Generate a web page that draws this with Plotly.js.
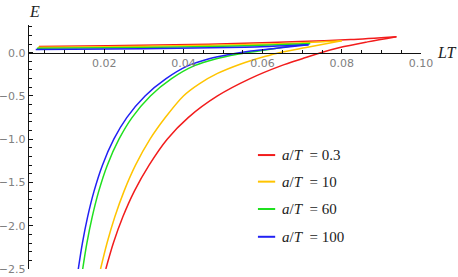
<!DOCTYPE html>
<html><head><meta charset="utf-8">
<script src="https://cdn.plot.ly/plotly-3.0.1.min.js"></script>
<style>html,body{margin:0;padding:0;background:#fff}</style>
</head><body><div id="chart" style="width:458px;height:277px"></div>
<script>
// legend labels (a/T values)
const aOverT = ['0.3', '10', '60', '100'];
const colors = ['#f21c1c', '#ffc400', '#1fe01f', '#2121f4'];

// upper branches (left end -> cusp)
const ltRedUpper = [0.0035, 0.0208, 0.0378, 0.0554, 0.0693, 0.0822, 0.0938];
const eRedUpper  = [0.072, 0.080, 0.091, 0.108, 0.129, 0.152, 0.185];
const ltYellowUpper = [0.0033, 0.0208, 0.0386, 0.0554, 0.0683, 0.0800];
const eYellowUpper  = [0.063, 0.069, 0.079, 0.094, 0.110, 0.137];
const ltGreenUpper = [0.0030, 0.0208, 0.0386, 0.0554, 0.0720];
const eGreenUpper  = [0.052, 0.057, 0.066, 0.080, 0.107];
const ltBlueUpper = [0.0027, 0.0208, 0.0386, 0.0554, 0.0716];
const eBlueUpper  = [0.037, 0.042, 0.050, 0.064, 0.093];

// lower branches (cusp -> bottom)
const ltRedLower = [0.0938, 0.0865, 0.0795, 0.0747, 0.0700, 0.06475, 0.05684, 0.0486, 0.0412, 0.0359, 0.03133, 0.02761, 0.02468, 0.02231, 0.0204];
const eRedLower  = [0.185, 0.125, 0.060, 0.000, -0.070, -0.150, -0.300, -0.500, -0.750, -1.000, -1.300, -1.600, -1.900, -2.200, -2.500];
const ltYellowLower = [0.0800, 0.0710, 0.0642, 0.0605, 0.0545, 0.0486, 0.0440, 0.0400, 0.03542, 0.03156, 0.02790, 0.02501, 0.02266, 0.02071, 0.01907];
const eYellowLower  = [0.137, 0.060, 0.000, -0.045, -0.130, -0.240, -0.360, -0.500, -0.750, -1.000, -1.300, -1.600, -1.900, -2.200, -2.500];
const ltGreenLower = [0.0720, 0.0655, 0.0590, 0.0533, 0.0483, 0.0428, 0.0370, 0.03166, 0.02702, 0.02372, 0.02078, 0.01862, 0.01695, 0.01562, 0.01456];
const eGreenLower  = [0.107, 0.065, 0.020, -0.020, -0.070, -0.150, -0.300, -0.500, -0.750, -1.000, -1.300, -1.600, -1.900, -2.200, -2.500];
const ltBlueLower = [0.0716, 0.0640, 0.0570, 0.0515, 0.0465, 0.0412, 0.03562, 0.03031, 0.02569, 0.02242, 0.01955, 0.01743, 0.01579, 0.01449, 0.01345];
const eBlueLower  = [0.093, 0.055, 0.020, -0.020, -0.070, -0.150, -0.300, -0.500, -0.750, -1.000, -1.300, -1.600, -1.900, -2.200, -2.500];

const upperLT = [ltRedUpper, ltYellowUpper, ltGreenUpper, ltBlueUpper];
const upperE = [eRedUpper, eYellowUpper, eGreenUpper, eBlueUpper];
const lowerLT = [ltRedLower, ltYellowLower, ltGreenLower, ltBlueLower];
const lowerE = [eRedLower, eYellowLower, eGreenLower, eBlueLower];

const traces = [];
for (let i = 0; i < 4; i++) {
  traces.push({
    x: lowerLT[i], y: lowerE[i], type: 'scatter', mode: 'lines',
    line: {color: colors[i], width: 1.5, shape: 'spline', smoothing: 0.9},
    showlegend: false, hoverinfo: 'skip'
  });
  traces.push({
    x: upperLT[i], y: upperE[i], type: 'scatter', mode: 'lines',
    line: {color: colors[i], width: 1.5, shape: 'spline', smoothing: 0.8},
    showlegend: false, hoverinfo: 'skip'
  });
}

// custom legend
const legY = [0.467, 0.358, 0.246, 0.132];
const shapes = aOverT.map((v, i) => ({
  type: 'line', xref: 'paper', yref: 'paper',
  x0: 0.584, x1: 0.628, y0: legY[i], y1: legY[i],
  line: {color: colors[i], width: 2}
}));
const annotations = aOverT.map((v, i) => ({
  xref: 'paper', yref: 'paper', x: 0.640, y: legY[i],
  xanchor: 'left', yanchor: 'middle', showarrow: false,
  text: '<i>a</i>/<i>T</i>&nbsp; = ' + v,
  font: {family: 'Liberation Serif, serif', size: 15, color: '#222'}
}));
annotations.push({
  xref: 'paper', yref: 'paper', x: 0.015, y: 1.057, showarrow: false,
  xanchor: 'center', yanchor: 'middle', text: '<i>E</i>',
  font: {family: 'Liberation Serif, serif', size: 16, color: '#222'}
});
annotations.push({
  xref: 'paper', yref: 'paper', x: 1.066, y: 0.886, showarrow: false,
  xanchor: 'center', yanchor: 'middle', text: '<i>LT</i>',
  font: {family: 'Liberation Serif, serif', size: 16, color: '#222'}
});

const layout = {
  width: 458, height: 277,
  margin: {l: 29, r: 37, t: 25, b: 8},
  paper_bgcolor: '#fff', plot_bgcolor: '#fff',
  xaxis: {
    range: [0.001, 0.1], anchor: 'free', position: 2.5 / 2.82,
    showgrid: false, zeroline: false, showline: true, linecolor: '#111', linewidth: 1.3,
    ticks: 'inside', ticklen: 4, tickcolor: '#111', tickwidth: 1,
    tickmode: 'linear', tick0: 0, dtick: 0.02, tickformat: '.2f',
    tickfont: {family: 'DejaVu Sans, sans-serif', size: 11, color: '#808080'},
    minor: {dtick: 0.005, tick0: 0, ticks: 'inside', ticklen: 2.5, tickcolor: '#111', showgrid: false}
  },
  yaxis: {
    range: [-2.5, 0.32],
    showgrid: false, zeroline: false, showline: true, linecolor: '#111', linewidth: 1.3,
    ticks: 'inside', ticklen: 4, tickcolor: '#111', tickwidth: 1,
    tickmode: 'linear', tick0: 0, dtick: 0.5, tickformat: '.1f',
    tickfont: {family: 'DejaVu Sans, sans-serif', size: 11, color: '#808080'},
    minor: {dtick: 0.1, tick0: 0, ticks: 'inside', ticklen: 2.5, tickcolor: '#111', showgrid: false}
  },
  shapes: shapes,
  annotations: annotations,
  showlegend: false
};

Plotly.newPlot('chart', traces, layout, {displayModeBar: false, staticPlot: true});
</script>
</body></html>
